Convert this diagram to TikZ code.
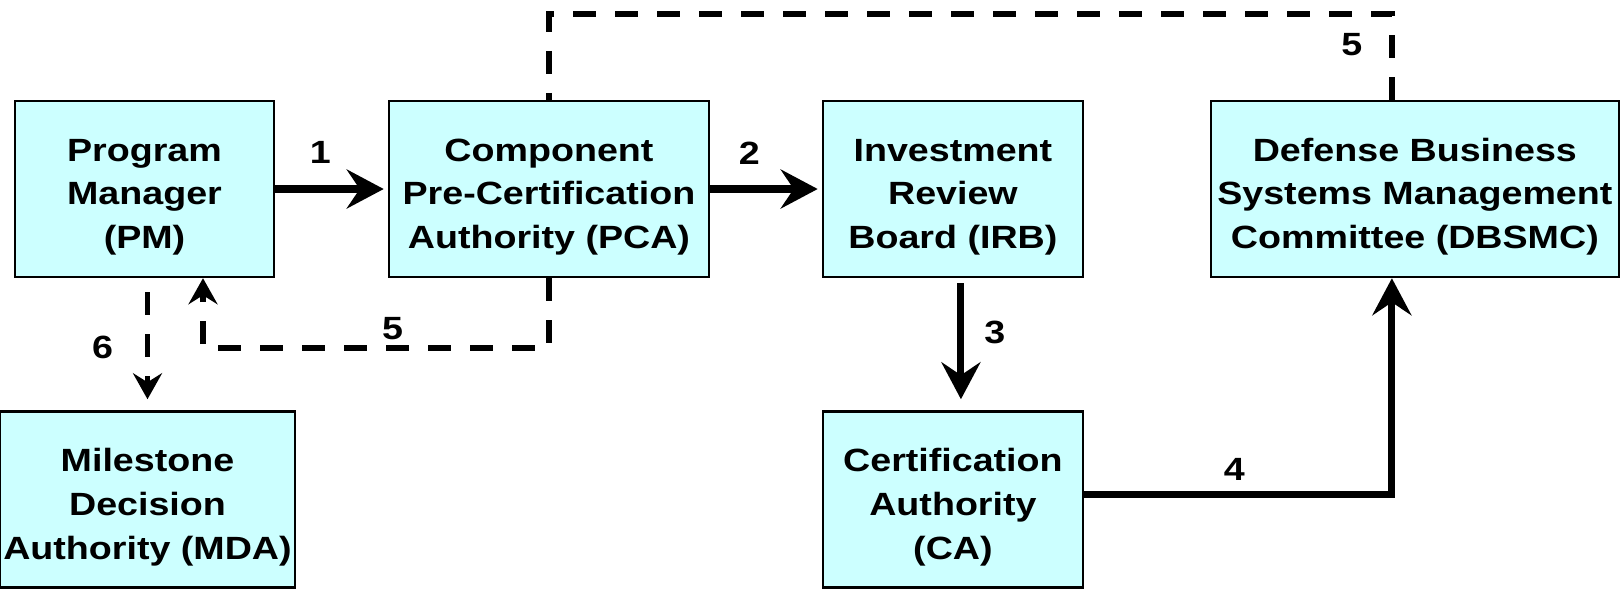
\documentclass[tikz,border=0pt]{standalone}
\usepackage{fontspec}
\setmainfont{Liberation Sans}[FakeStretch=1.17]
\usepackage{xcolor}
\usepackage{tikz}
\usetikzlibrary{arrows.meta, positioning, calc}
\definecolor{boxcyan}{HTML}{CCFFFF}
\tikzstyle{block} = [rectangle, minimum height=3.52cm, text centered, align=center, draw=black, line width=1.4pt, fill=boxcyan, inner sep=2pt, font=\bfseries\fontsize{18.3}{25}\selectfont, text height=2.53cm]
\tikzstyle{arrow} = [line width=4pt, -{Stealth[length=0.74cm, width=0.78cm, inset=0.26cm]}]
\tikzstyle{dashline} = [line width=3.4pt, dash pattern=on 0.46cm off 0.38cm]
\tikzstyle{dasharrow} = [dashline, -{Stealth[length=0.52cm, width=0.58cm, inset=0.18cm]}]
\tikzstyle{num} = [inner sep=0pt, font=\bfseries\fontsize{18.3}{25}\selectfont]

\begin{document}
\begin{tikzpicture}[node distance=2.3cm]
    \useasboundingbox (0,0) rectangle (32.48,-11.82);
    % Top row
    \node (pm) [block, minimum width=5.18cm] at (2.89,-3.78) {Program\\Manager\\(PM)};
    \node (pca) [block, minimum width=6.4cm, right=2.25cm of pm] {Component\\Pre-Certification\\Authority (PCA)};
    \node (irb) [block, minimum width=5.2cm, right=2.23cm of pca] {Investment\\Review\\Board (IRB)};
    \node (dbsmc) [block, minimum width=8.16cm, right=2.51cm of irb] {Defense Business\\Systems Management\\Committee (DBSMC)};

    % Bottom row
    \node (mda) [block, minimum width=5.88cm, below=2.64cm of pm, xshift=0.06cm] {Milestone\\Decision\\Authority (MDA)};
    \node (ca) [block, minimum width=5.2cm, below=2.64cm of irb] {Certification\\Authority\\(CA)};

    % Arrows
    \draw [arrow, shorten >=0.08cm] (pm) -- node[num, pos=0.4, yshift=0.74cm] {1} (pca);
    \draw [arrow, shorten >=0.08cm] (pca) -- node[num, pos=0.35, yshift=0.72cm] {2} (irb);
    \draw [arrow, shorten <=0.1cm, shorten >=0.22cm] ([xshift=0.16cm]irb.south) -- node[num, pos=0.41, xshift=0.68cm] {3} ([xshift=0.16cm]ca.north);
    \draw [arrow] ([yshift=0.1cm]ca.east) -| node[num, pos=0.244, yshift=0.5cm] {4} ([xshift=-0.46cm]dbsmc.south);

    % Dashed links
    \draw [dashline] ([xshift=-0.46cm]dbsmc.north) -- node[num, pos=0.64, xshift=-0.8cm] {5} ++(0,1.72) -| (pca.north);
    \draw [dasharrow] (pca.south) -- ++(0,-1.4) -| node[num, pos=0.226, yshift=0.4cm] {5} ([xshift=1.17cm]pm.south);
    \draw [dasharrow, shorten <=0.28cm, shorten >=0.22cm] (pm.south -| mda.north) -- node[num, xshift=-0.9cm, yshift=-0.06cm] {6} (mda.north);
\end{tikzpicture}
\end{document}
